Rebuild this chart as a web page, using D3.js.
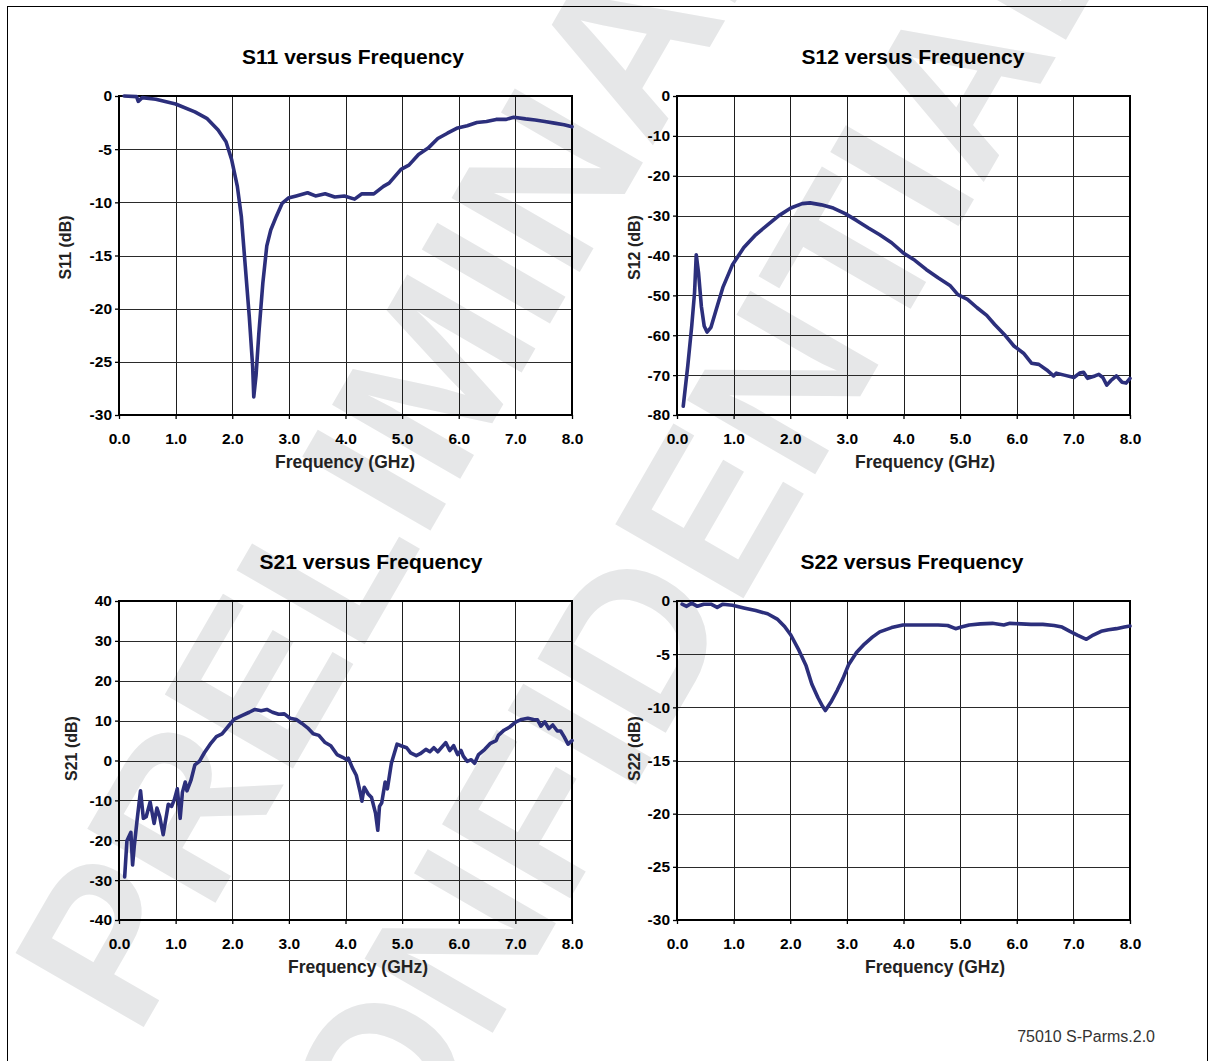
<!DOCTYPE html>
<html>
<head>
<meta charset="utf-8">
<script src="https://cdn.jsdelivr.net/npm/d3@7"></script>
<style>
  html, body { margin: 0; padding: 0; background: #fff; }
  svg { display: block; }
</style>
</head>
<body>
<div id="chart"></div>
<script>
// --- Data ---
const freqTicks = [0, 1, 2, 3, 4, 5, 6, 7, 8];

// [frequency GHz, dB]
const s11 = [
  [0.09, 0.0], [0.31, -0.06], [0.34, -0.5], [0.41, -0.15], [0.65, -0.3], [1.0, -0.75],
  [1.34, -1.5], [1.55, -2.1], [1.75, -3.2], [1.89, -4.3], [1.99, -6.0], [2.09, -8.5],
  [2.16, -11.3], [2.23, -16], [2.30, -20.7], [2.36, -25.4], [2.38, -28.3], [2.42, -26.3],
  [2.47, -22.3], [2.54, -17.6], [2.61, -14.1], [2.68, -12.6], [2.78, -11.3], [2.88, -10.1],
  [2.99, -9.6], [3.13, -9.4], [3.33, -9.1], [3.47, -9.4], [3.64, -9.2], [3.81, -9.5],
  [3.98, -9.4], [4.16, -9.7], [4.29, -9.2], [4.5, -9.2], [4.67, -8.5], [4.77, -8.2],
  [4.98, -6.9], [5.12, -6.5], [5.29, -5.5], [5.46, -4.9], [5.63, -4.0], [5.8, -3.5],
  [5.98, -3.0], [6.15, -2.8], [6.32, -2.5], [6.49, -2.4], [6.66, -2.2], [6.83, -2.2],
  [6.97, -2.0], [7.18, -2.15], [7.35, -2.25], [7.52, -2.4], [7.69, -2.55], [7.86, -2.7],
  [8.0, -2.9]
];

const s12 = [
  [0.11, -77.8], [0.19, -67.7], [0.26, -57.7], [0.31, -49.3], [0.34, -39.8], [0.38, -44.3],
  [0.43, -52.7], [0.48, -57.7], [0.53, -59.2], [0.60, -58], [0.71, -52.7], [0.81, -48],
  [0.98, -42.3], [1.18, -38], [1.39, -34.8], [1.60, -32.3], [1.80, -30], [2.01, -28.1],
  [2.21, -27], [2.35, -26.8], [2.55, -27.3], [2.76, -28.1], [2.97, -29.5], [3.17, -31.2],
  [3.38, -33.1], [3.58, -34.8], [3.79, -36.8], [3.99, -39.3], [4.20, -41.2], [4.40, -43.5],
  [4.61, -45.6], [4.82, -47.5], [4.96, -49.8], [5.13, -51], [5.30, -53.1], [5.47, -55],
  [5.61, -57.3], [5.78, -59.8], [5.95, -62.7], [6.12, -64.5], [6.26, -67], [6.39, -67.3],
  [6.53, -68.7], [6.65, -70.2], [6.70, -69.5], [6.84, -70], [7.01, -70.6], [7.11, -69.5],
  [7.18, -69.3], [7.25, -70.8], [7.38, -70.2], [7.45, -69.8], [7.52, -70.6], [7.59, -72.5],
  [7.66, -71.4], [7.76, -70.2], [7.86, -71.8], [7.93, -72], [8.0, -70.8]
];

const s21 = [
  [0.10, -29.2], [0.14, -20.1], [0.21, -18], [0.24, -26.2], [0.27, -21.4], [0.32, -14.9],
  [0.38, -7.6], [0.43, -14.5], [0.48, -14.1], [0.55, -10.4], [0.62, -15.8], [0.67, -11.9],
  [0.72, -14.1], [0.78, -18.6], [0.84, -13.6], [0.87, -11], [0.93, -11.5], [0.98, -9.7],
  [1.03, -7.1], [1.08, -14.5], [1.12, -8], [1.17, -5.4], [1.20, -7.6], [1.27, -5],
  [1.34, -1.1], [1.42, -0.2], [1.51, 2], [1.61, 4.1], [1.72, 6], [1.82, 6.7], [1.92, 8.4],
  [2.03, 10.3], [2.16, 11.2], [2.30, 12.1], [2.40, 12.8], [2.51, 12.5], [2.61, 12.8],
  [2.71, 12.1], [2.82, 11.6], [2.92, 11.7], [3.02, 10.6], [3.13, 10.3], [3.23, 9.3],
  [3.33, 8.2], [3.43, 6.7], [3.53, 6.3], [3.64, 4.5], [3.74, 3.7], [3.85, 1.5], [3.95, 0.8],
  [4.02, 0.2], [4.05, 0.6], [4.12, -1.8], [4.19, -3.7], [4.26, -8], [4.29, -10.2],
  [4.33, -6.7], [4.40, -8.4], [4.46, -9.3], [4.53, -13.2], [4.57, -17.5], [4.60, -11.5],
  [4.64, -10.6], [4.70, -5.4], [4.74, -7.1], [4.81, -0.7], [4.91, 4.1], [4.98, 3.7],
  [5.08, 3.2], [5.15, 1.9], [5.25, 1.2], [5.32, 1.7], [5.42, 2.8], [5.49, 2.2], [5.56, 3.2],
  [5.63, 2.2], [5.77, 4.5], [5.84, 2.5], [5.91, 3.7], [5.98, 1.5], [6.04, 2.5], [6.08, 1.1],
  [6.15, -0.2], [6.22, 0.2], [6.28, -0.7], [6.35, 1.5], [6.46, 2.8], [6.56, 4.3], [6.66, 5],
  [6.70, 6.3], [6.80, 7.6], [6.90, 8.4], [7.01, 9.7], [7.11, 10.3], [7.22, 10.6],
  [7.32, 10.3], [7.39, 10.2], [7.45, 8.6], [7.52, 9.7], [7.59, 8], [7.66, 8.9], [7.74, 7.4],
  [7.80, 7.4], [7.86, 6], [7.93, 4.1], [8.0, 5]
];

const s22 = [
  [0.09, -0.3], [0.17, -0.5], [0.26, -0.2], [0.36, -0.5], [0.47, -0.3], [0.60, -0.3],
  [0.71, -0.6], [0.81, -0.3], [0.98, -0.4], [1.18, -0.65], [1.39, -0.9], [1.60, -1.2],
  [1.77, -1.7], [1.90, -2.4], [2.01, -3.2], [2.14, -4.5], [2.28, -6.1], [2.38, -7.8],
  [2.49, -9.1], [2.57, -9.9], [2.62, -10.3], [2.73, -9.4], [2.83, -8.4], [2.93, -7.3],
  [3.03, -6], [3.17, -4.85], [3.31, -4.05], [3.45, -3.4], [3.58, -2.9], [3.79, -2.5],
  [3.99, -2.25], [4.20, -2.25], [4.40, -2.25], [4.61, -2.25], [4.78, -2.3], [4.92, -2.6],
  [5.02, -2.45], [5.16, -2.25], [5.36, -2.15], [5.57, -2.1], [5.77, -2.25], [5.88, -2.1],
  [6.08, -2.15], [6.25, -2.2], [6.46, -2.2], [6.66, -2.3], [6.80, -2.45], [6.94, -2.85],
  [7.07, -3.2], [7.23, -3.6], [7.35, -3.2], [7.49, -2.85], [7.62, -2.7], [7.76, -2.6],
  [7.90, -2.45], [8.0, -2.35]
];

const s11Ticks = [0, -5, -10, -15, -20, -25, -30];
const s12Ticks = [0, -10, -20, -30, -40, -50, -60, -70, -80];
const s21Ticks = [40, 30, 20, 10, 0, -10, -20, -30, -40];
const s22Ticks = [0, -5, -10, -15, -20, -25, -30];

const panels = [
  { title: "S11 versus Frequency", yLabel: "S11 (dB)", data: s11, yTicks: s11Ticks,
    left: 119, top: 96, titleX: 353, yLabelX: 65, xLabelX: 345 },
  { title: "S12 versus Frequency", yLabel: "S12 (dB)", data: s12, yTicks: s12Ticks,
    left: 677, top: 96, titleX: 913, yLabelX: 634, xLabelX: 925 },
  { title: "S21 versus Frequency", yLabel: "S21 (dB)", data: s21, yTicks: s21Ticks,
    left: 119, top: 601, titleX: 371, yLabelX: 71, xLabelX: 358 },
  { title: "S22 versus Frequency", yLabel: "S22 (dB)", data: s22, yTicks: s22Ticks,
    left: 677, top: 601, titleX: 912, yLabelX: 634, xLabelX: 935 }
];

// --- Canvas ---
const W = 1213, H = 1061;
const plotW = 453, plotH = 319;
const lineColor = "#2c2f7c";
const font = "'Liberation Sans', Arial, Helvetica, sans-serif";

const svg = d3.select("#chart").append("svg")
  .attr("width", W).attr("height", H)
  .attr("viewBox", [0, 0, W, H]);

// Watermark, drawn first so everything sits on top of it
const wm = svg.append("g")
  .attr("transform", "rotate(-60)")
  .attr("fill", "#e6e7e8")
  .attr("font-family", font)
  .attr("font-weight", "bold")
  .attr("font-size", 215);
wm.append("text").attr("x", -832).attr("y", 638).text("PRELIMINARY");
wm.append("text").attr("x", -985).attr("y", 943).text("CONFIDENTIAL");

// Page border
svg.append("rect")
  .attr("x", 7.5).attr("y", 6.5)
  .attr("width", 1200).attr("height", 1100)
  .attr("fill", "none").attr("stroke", "#000").attr("stroke-width", 1);

// --- Panels ---
for (const p of panels) {
  const x = d3.scaleLinear().domain([0, 8]).range([0, plotW]);
  const y = d3.scaleLinear()
    .domain([d3.min(p.yTicks), d3.max(p.yTicks)])
    .range([plotH, 0]);

  const g = svg.append("g").attr("transform", `translate(${p.left},${p.top})`);

  // gridlines
  g.append("g")
    .selectAll("line")
    .data(freqTicks.slice(1, -1))
    .join("line")
    .attr("x1", (d) => Math.round(x(d)) + 0.5).attr("x2", (d) => Math.round(x(d)) + 0.5)
    .attr("y1", 0).attr("y2", plotH)
    .attr("stroke", "#1e1e1e").attr("stroke-width", 1);

  g.append("g")
    .selectAll("line")
    .data(p.yTicks.slice(1, -1))
    .join("line")
    .attr("x1", 0).attr("x2", plotW)
    .attr("y1", (d) => Math.round(y(d)) + 0.5).attr("y2", (d) => Math.round(y(d)) + 0.5)
    .attr("stroke", "#2a2a2a").attr("stroke-width", 1);

  // axes: outward ticks + labels (plain hyphen for negatives, as in the source)
  const yAxis = g.append("g")
    .call(d3.axisLeft(y).tickValues(p.yTicks).tickSize(4).tickPadding(3).tickFormat((d) => String(d)));
  const xAxis = g.append("g")
    .attr("transform", `translate(0,${plotH})`)
    .call(d3.axisBottom(x).tickValues(freqTicks).tickSize(4).tickPadding(14).tickFormat((d) => d.toFixed(1)));

  for (const ax of [xAxis, yAxis]) {
    ax.select(".domain").remove();
    ax.selectAll(".tick line").attr("stroke", "#000").attr("stroke-width", 1.3);
    ax.selectAll(".tick text")
      .attr("fill", "#000")
      .attr("font-family", font)
      .attr("font-weight", "bold")
      .attr("font-size", 15.5);
  }

  // frame
  g.append("rect")
    .attr("x", 0).attr("y", 0).attr("width", plotW).attr("height", plotH)
    .attr("fill", "none").attr("stroke", "#000").attr("stroke-width", 2);

  // curve
  const line = d3.line()
    .x((d) => x(d[0]))
    .y((d) => y(d[1]));

  g.append("path")
    .datum(p.data)
    .attr("d", line)
    .attr("fill", "none")
    .attr("stroke", lineColor)
    .attr("stroke-width", 3.6)
    .attr("stroke-linejoin", "round")
    .attr("stroke-linecap", "round");

  // titles
  svg.append("text")
    .attr("x", p.titleX).attr("y", p.top - 32)
    .attr("text-anchor", "middle")
    .attr("font-family", font).attr("font-weight", "bold").attr("font-size", 21)
    .attr("fill", "#000")
    .text(p.title);

  svg.append("text")
    .attr("x", p.xLabelX).attr("y", p.top + plotH + 53)
    .attr("text-anchor", "middle")
    .attr("font-family", font).attr("font-weight", "bold").attr("font-size", 17.5)
    .attr("fill", "#222")
    .text("Frequency (GHz)");

  const cy = p.top + plotH / 2 + (p.top > 500 ? -12 : -8);
  svg.append("text")
    .attr("transform", `translate(${p.yLabelX + 6},${cy}) rotate(-90)`)
    .attr("text-anchor", "middle")
    .attr("font-family", font).attr("font-weight", "bold").attr("font-size", 16)
    .attr("fill", "#222")
    .text(p.yLabel);
}

// footer code
svg.append("text")
  .attr("x", 1155).attr("y", 1042)
  .attr("text-anchor", "end")
  .attr("font-family", font).attr("font-size", 16)
  .attr("fill", "#333")
  .text("75010 S-Parms.2.0");
</script>
</body>
</html>
